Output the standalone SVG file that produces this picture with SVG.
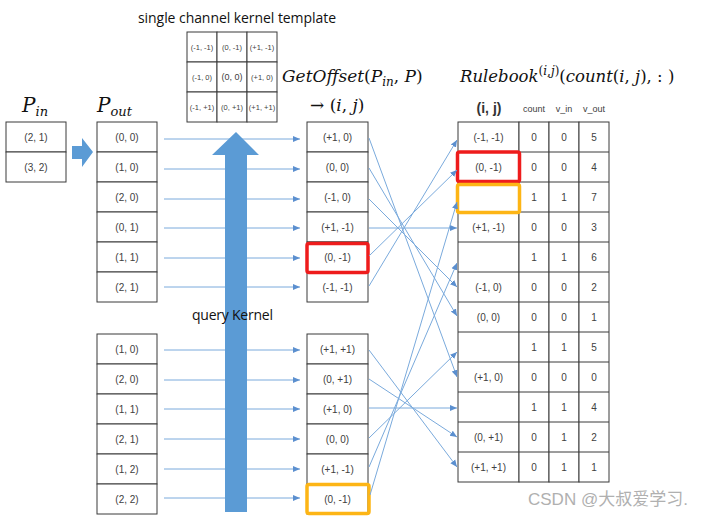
<svg xmlns="http://www.w3.org/2000/svg" width="720" height="517" viewBox="0 0 720 517">
<style>
.cell{fill:#fff;stroke:#3a3a3a;stroke-width:1}
.t{font-family:"Liberation Sans",Arial,sans-serif;font-size:10px;fill:#404040;text-anchor:middle}
.tk{font-family:"Liberation Sans",Arial,sans-serif;font-size:7.5px;fill:#404040;text-anchor:middle}
.lbl{font-family:"Open Sans","Liberation Sans",sans-serif;font-size:14px;fill:#111}
.hd{font-family:"Liberation Sans",Arial,sans-serif;font-size:9px;fill:#404040;text-anchor:middle}
.m{font-family:"DejaVu Serif","Liberation Serif",serif;font-size:17px;fill:#111}
.i{font-style:italic}
.cn{stroke:#7aaadc;stroke-width:1;fill:none;marker-end:url(#ah)}
.red{fill:none;stroke:#ee1c1c;stroke-width:3.5}
.org{fill:none;stroke:#fdb515;stroke-width:3.5}
.big{fill:#5b9bd5}
</style>
<defs>
<marker id="ah" markerUnits="userSpaceOnUse" markerWidth="8" markerHeight="8" refX="7" refY="4" orient="auto">
<path d="M0,1 L7,4 L0,7 Z" fill="#5b8fcf"/>
</marker>
</defs>

<text class="lbl" x="237" y="23" text-anchor="middle" textLength="198">single channel kernel template</text>

<g id="kernel">
<rect class="cell" x="187" y="32" width="30" height="30"/><rect class="cell" x="217" y="32" width="30" height="30"/><rect class="cell" x="247" y="32" width="30" height="30"/>
<rect class="cell" x="187" y="62" width="30" height="30"/><rect class="cell" x="217" y="62" width="30" height="30"/><rect class="cell" x="247" y="62" width="30" height="30"/>
<rect class="cell" x="187" y="92" width="30" height="30"/><rect class="cell" x="217" y="92" width="30" height="30"/><rect class="cell" x="247" y="92" width="30" height="30"/>
<text class="tk" x="202" y="50">(-1, -1)</text><text class="tk" x="232" y="50">(0, -1)</text><text class="tk" x="262" y="50">(+1, -1)</text>
<text class="tk" x="202" y="80">(-1, 0)</text><text class="tk" x="232" y="80" style="font-size:9px">(0, 0)</text><text class="tk" x="262" y="80">(+1, 0)</text>
<text class="tk" x="202" y="110">(-1, +1)</text><text class="tk" x="232" y="110">(0, +1)</text><text class="tk" x="262" y="110">(+1, +1)</text>
</g>

<text class="m" x="22" y="112"><tspan class="i" font-size="20">P</tspan><tspan class="i" font-size="13" dy="4">in</tspan></text>
<text class="m" x="97" y="112"><tspan class="i" font-size="20">P</tspan><tspan class="i" font-size="13" dy="4">out</tspan></text>
<text class="m" x="282" y="82"><tspan class="i">GetOffset</tspan>(<tspan class="i">P</tspan><tspan class="i" font-size="12" dy="4">in</tspan><tspan dy="-4">, </tspan><tspan class="i">P</tspan>)</text>
<text class="m" x="310" y="111">→ (<tspan class="i">i</tspan>, <tspan class="i">j</tspan>)</text>
<text class="m" x="460" y="82" style="font-size:16.5px"><tspan class="i">Rulebook</tspan><tspan font-size="12" dy="-7">(<tspan class="i">i</tspan>,<tspan class="i">j</tspan>)</tspan><tspan dy="7">(</tspan><tspan class="i">count</tspan>(<tspan class="i">i</tspan>, <tspan class="i">j</tspan>), : )</text>

<g id="pin">
<rect class="cell" x="6" y="122" width="60" height="30"/><rect class="cell" x="6" y="152" width="60" height="30"/>
<text class="t" x="36" y="141">(2, 1)</text><text class="t" x="36" y="171">(3, 2)</text>
</g>
<path id="arrow-right" class="big" d="M72,146 H82 V138 L93,152 L82,167 V159 H72 Z"/>

<g id="pout-top">
<rect class="cell" x="97" y="122" width="60" height="30"/><rect class="cell" x="97" y="152" width="60" height="30"/><rect class="cell" x="97" y="182" width="60" height="30"/>
<rect class="cell" x="97" y="212" width="60" height="30"/><rect class="cell" x="97" y="242" width="60" height="30"/><rect class="cell" x="97" y="272" width="60" height="30"/>
<text class="t" x="127" y="141">(0, 0)</text><text class="t" x="127" y="171">(1, 0)</text><text class="t" x="127" y="201">(2, 0)</text>
<text class="t" x="127" y="231">(0, 1)</text><text class="t" x="127" y="261">(1, 1)</text><text class="t" x="127" y="291">(2, 1)</text>
</g>
<g id="pout-bottom">
<rect class="cell" x="97" y="334" width="60" height="30"/><rect class="cell" x="97" y="364" width="60" height="30"/><rect class="cell" x="97" y="394" width="60" height="30"/>
<rect class="cell" x="97" y="424" width="60" height="30"/><rect class="cell" x="97" y="454" width="60" height="30"/><rect class="cell" x="97" y="484" width="60" height="30"/>
<text class="t" x="127" y="353">(1, 0)</text><text class="t" x="127" y="383">(2, 0)</text><text class="t" x="127" y="413">(1, 1)</text>
<text class="t" x="127" y="443">(2, 1)</text><text class="t" x="127" y="473">(1, 2)</text><text class="t" x="127" y="503">(2, 2)</text>
</g>

<g id="offset-top">
<rect class="cell" x="307" y="122" width="61" height="30"/><rect class="cell" x="307" y="152" width="61" height="30"/><rect class="cell" x="307" y="182" width="61" height="30"/>
<rect class="cell" x="307" y="212" width="61" height="30"/><rect class="cell" x="307" y="242" width="61" height="30"/><rect class="cell" x="307" y="272" width="61" height="30"/>
<text class="t" x="337.5" y="141">(+1, 0)</text><text class="t" x="337.5" y="171">(0, 0)</text><text class="t" x="337.5" y="201">(-1, 0)</text>
<text class="t" x="337.5" y="231">(+1, -1)</text><text class="t" x="337.5" y="261">(0, -1)</text><text class="t" x="337.5" y="291">(-1, -1)</text>
<rect class="red" x="307" y="243.5" width="61" height="29" rx="2"/>
</g>
<g id="offset-bottom">
<rect class="cell" x="307" y="334" width="61" height="30"/><rect class="cell" x="307" y="364" width="61" height="30"/><rect class="cell" x="307" y="394" width="61" height="30"/>
<rect class="cell" x="307" y="424" width="61" height="30"/><rect class="cell" x="307" y="454" width="61" height="30"/><rect class="cell" x="307" y="484" width="61" height="30"/>
<text class="t" x="337.5" y="353">(+1, +1)</text><text class="t" x="337.5" y="383">(0, +1)</text><text class="t" x="337.5" y="413">(+1, 0)</text>
<text class="t" x="337.5" y="443">(0, 0)</text><text class="t" x="337.5" y="473">(+1, -1)</text><text class="t" x="337.5" y="503">(0, -1)</text>
<rect class="org" x="307" y="484.5" width="62" height="29" rx="2"/>
</g>

<g id="rulebook">
<text x="489" y="113" style="font-family:'Liberation Sans',Arial,sans-serif;font-size:14px;font-weight:bold;fill:#333;text-anchor:middle">(i, j)</text>
<text class="hd" x="534" y="112">count</text><text class="hd" x="564" y="112">v_in</text><text class="hd" x="594" y="112">v_out</text>
<g>
<rect class="cell" x="458" y="122" width="61" height="360"/>
<rect class="cell" x="519" y="122" width="30" height="360"/>
<rect class="cell" x="549" y="122" width="30" height="360"/>
<rect class="cell" x="579" y="122" width="30" height="360"/>
<path d="M458,152H609M458,182H609M458,212H609M458,242H609M458,272H609M458,302H609M458,332H609M458,362H609M458,392H609M458,422H609M458,452H609" stroke="#3a3a3a" stroke-width="1"/>
</g>
<text class="t" x="488.5" y="141">(-1, -1)</text><text class="t" x="534" y="141">0</text><text class="t" x="564" y="141">0</text><text class="t" x="594" y="141">5</text>
<text class="t" x="488.5" y="171">(0, -1)</text><text class="t" x="534" y="171">0</text><text class="t" x="564" y="171">0</text><text class="t" x="594" y="171">4</text>
<text class="t" x="534" y="201">1</text><text class="t" x="564" y="201">1</text><text class="t" x="594" y="201">7</text>
<text class="t" x="488.5" y="231">(+1, -1)</text><text class="t" x="534" y="231">0</text><text class="t" x="564" y="231">0</text><text class="t" x="594" y="231">3</text>
<text class="t" x="534" y="261">1</text><text class="t" x="564" y="261">1</text><text class="t" x="594" y="261">6</text>
<text class="t" x="488.5" y="291">(-1, 0)</text><text class="t" x="534" y="291">0</text><text class="t" x="564" y="291">0</text><text class="t" x="594" y="291">2</text>
<text class="t" x="488.5" y="321">(0, 0)</text><text class="t" x="534" y="321">0</text><text class="t" x="564" y="321">0</text><text class="t" x="594" y="321">1</text>
<text class="t" x="534" y="351">1</text><text class="t" x="564" y="351">1</text><text class="t" x="594" y="351">5</text>
<text class="t" x="488.5" y="381">(+1, 0)</text><text class="t" x="534" y="381">0</text><text class="t" x="564" y="381">0</text><text class="t" x="594" y="381">0</text>
<text class="t" x="534" y="411">1</text><text class="t" x="564" y="411">1</text><text class="t" x="594" y="411">4</text>
<text class="t" x="488.5" y="441">(0, +1)</text><text class="t" x="534" y="441">0</text><text class="t" x="564" y="441">1</text><text class="t" x="594" y="441">2</text>
<text class="t" x="488.5" y="471">(+1, +1)</text><text class="t" x="534" y="471">0</text><text class="t" x="564" y="471">1</text><text class="t" x="594" y="471">1</text>
<rect class="red" x="457.5" y="152" width="62" height="29.5" rx="2"/>
<rect class="org" x="457.5" y="184.5" width="62" height="28" rx="2"/>
</g>

<g id="connectors">
<path class="cn" d="M164,139H300"/><path class="cn" d="M164,169H300"/><path class="cn" d="M164,199H300"/>
<path class="cn" d="M164,228H300"/><path class="cn" d="M164,258H300"/><path class="cn" d="M164,287H300"/>
<path class="cn" d="M164,350H300"/><path class="cn" d="M164,380H300"/><path class="cn" d="M164,409H300"/>
<path class="cn" d="M164,439H300"/><path class="cn" d="M164,469H300"/><path class="cn" d="M164,498H300"/>
<path class="cn" d="M369,138L457,377"/>
<path class="cn" d="M369,168L457,316"/>
<path class="cn" d="M369,199L457,287"/>
<path class="cn" d="M369,228L457,228"/>
<path class="cn" d="M369,256L457,170"/>
<path class="cn" d="M369,286L457,140"/>
<path class="cn" d="M369,350L457,467"/>
<path class="cn" d="M369,379L457,437"/>
<path class="cn" d="M369,408L457,408"/>
<path class="cn" d="M369,438L457,352"/>
<path class="cn" d="M369,467L457,263"/>
<path class="cn" d="M370,495L457,202"/>
</g>

<path id="query-arrow" class="big" d="M225,512 V155 H212 L236,132 L259,155 H247 V512 Z"/>
<text class="lbl" x="192" y="320" textLength="81">query Kernel</text>

<text x="528" y="505" style="font-family:'Liberation Sans','Noto Sans CJK SC',sans-serif;font-size:17px;fill:#b0b0b0">CSDN @大叔爱学习.</text>
</svg>
